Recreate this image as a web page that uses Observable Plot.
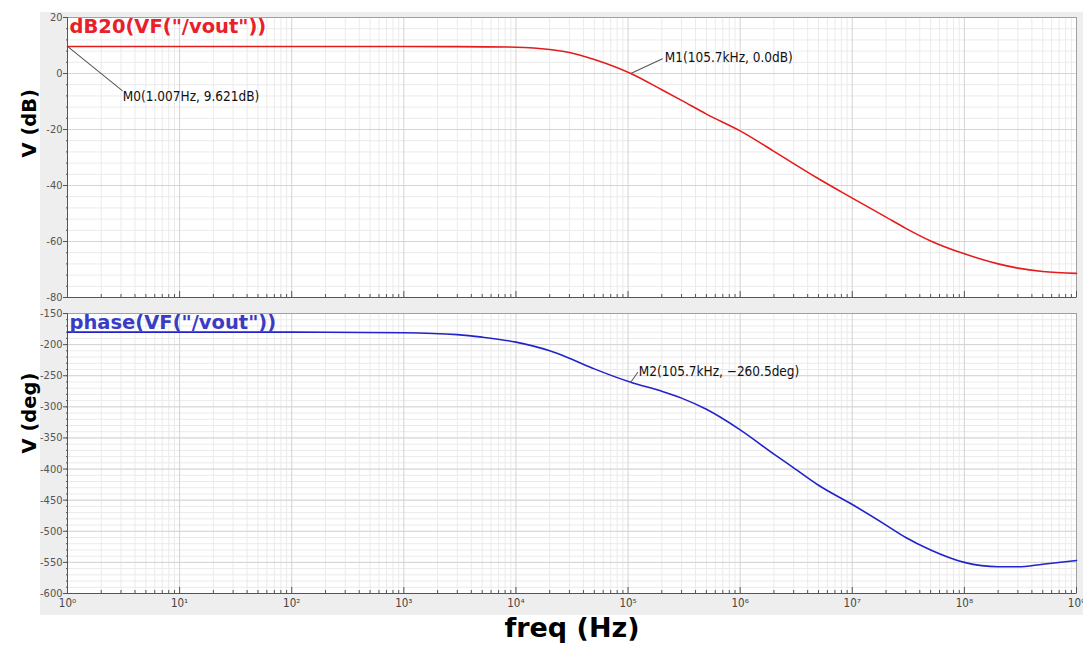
<!DOCTYPE html>
<html><head><meta charset="utf-8">
<script src="https://cdn.jsdelivr.net/npm/d3@7"></script>
<script src="https://cdn.jsdelivr.net/npm/@observablehq/plot@0.6"></script>
<style>
body{margin:0;background:#fff;}
#wrap{position:relative;width:1083px;height:657px;overflow:hidden;}
#bg{position:absolute;left:40px;top:12px;width:1043px;height:603px;background:#eeeeee;}
.panel{position:absolute;left:0;}
</style></head>
<body><div id="wrap"><div id="bg"></div><div id="top" class="panel" style="top:0px"></div><div id="bot" class="panel" style="top:300px"></div></div>
<script>
// ---- data ----
const gainFreqs = [1,10,100,1e3,3e3,1e4,2e4,3e4,5e4,1.057e5,2e5,3e5,5e5,1e6,2e6,3e6,5e6,1e7,2e7,3e7,5e7,1e8,2e8,3e8,5e8,1e9];
const gainDb    = [9.62,9.62,9.62,9.62,9.6,9.4,8.6,7.5,5.0,0.0,-5.8,-9.6,-14.5,-20.5,-27.8,-32.2,-37.6,-44.5,-51.3,-55.3,-59.8,-64.4,-68.0,-69.5,-70.7,-71.4];
const phaseFreqs = [1,10,100,1e3,3e3,5e3,1e4,2e4,3e4,5e4,1.057e5,2e5,3e5,5e5,1e6,2e6,3e6,5e6,1e7,2e7,3e7,5e7,1e8,2e8,3e8,5e8,1e9];
const phaseDeg   = [-180,-180,-180,-181,-184,-188,-196,-210,-222,-239,-260.5,-275,-286,-304,-337,-376,-398,-426,-457,-490,-510,-530,-550,-557,-557,-553,-547];
const dbTicks  = [20,0,-20,-40,-60,-80];
const degTicks = [-150,-200,-250,-300,-350,-400,-450,-500,-550,-600];
const decades  = [1,10,100,1e3,1e4,1e5,1e6,1e7,1e8,1e9];
const gainTitle  = 'dB20(VF("/vout"))';
const phaseTitle = 'phase(VF("/vout"))';
const gainMarkers  = [{f:1.007, v:9.621, label:"M0(1.007Hz, 9.621dB)"}, {f:105.7e3, v:0.0, label:"M1(105.7kHz, 0.0dB)"}];
const phaseMarkers = [{f:105.7e3, v:-260.5, label:"M2(105.7kHz, −260.5deg)"}];

// ---- derived ----
const gainData  = gainFreqs.map((f,i)=>({f, v: gainDb[i]}));
const phaseData = phaseFreqs.map((f,i)=>({f, v: phaseDeg[i]}));
const minorX = decades.slice(0,-1).flatMap(d => [2,3,4,5,6,7,8,9].map(k => k*d));
const minorDb = d3.range(-80, 20.01, 4);
const minorDeg = d3.range(-600, -149.9, 10);
const supDigits = "⁰¹²³⁴⁵⁶⁷⁸⁹";
const supFmt = d => "10" + String(Math.round(Math.log10(d))).split("").map(c => supDigits[+c]).join("");
const leader = {draw(context, l) { context.moveTo(0, 0); context.lineTo(0, -l); }};

const W = 1083, ML = 67, MR = 7, PH = 280;
const tickFont = "DejaVu Sans Condensed, DejaVu Sans, sans-serif";
const boldFont = "DejaVu Sans, sans-serif";

function panel({data, color, yDomain, yMajor, yMinor, title, titleColor, yLabel, markers, top, height, mb, showX, markerDefs}) {
  const marks = [
    Plot.frame({fill: "white", stroke: null}),
    Plot.ruleX(minorX, {stroke: "#ebebeb"}),
    Plot.ruleY(yMinor, {stroke: "#ebebeb"}),
    Plot.ruleX(decades, {stroke: "#d4d4d4"}),
    Plot.ruleY(yMajor, {stroke: "#d4d4d4"}),
    Plot.frame({stroke: "#a0a0a0"}),
    Plot.ruleX([1], {stroke: "#555"}),
    Plot.ruleY([yDomain[0]], {stroke: "#555"}),
    // inward x ticks
    Plot.tickX(minorX, {x: d => d, insetTop: PH - 3, stroke: "#555"}),
    Plot.tickX(decades, {x: d => d, insetTop: PH - 6, stroke: "#555"}),
    // y minor ticks
    Plot.tickY(yMinor, {y: d => d, insetRight: W - ML - MR - 2, dx: -1, stroke: "#555"}),
    Plot.axisY(yMajor, {tickSize: 4, tickPadding: 1, tickFormat: d => String(d), fontSize: 11, fontFamily: tickFont, color: "#555", label: null}),
    Plot.line(data, {x: "f", y: "v", stroke: color, strokeWidth: 1.6, curve: "monotone-x"}),
    ...markerDefs.map((m, i) => Plot.vector([markers[i]], {x: "f", y: "v", length: m.len, rotate: m.rot, anchor: "start", shape: leader, stroke: "#555", strokeWidth: 1})),
    ...markerDefs.map((m, i) => Plot.text([markers[i]], {x: "f", y: "v", text: "label", dx: m.dx, dy: m.dy, textAnchor: "start", fontSize: 13.5, fontFamily: tickFont, fill: "#111"})),
    Plot.text([title], {frameAnchor: "top-left", dx: 2, dy: 2, lineAnchor: "top", textAnchor: "start", fontSize: 19.5, fontWeight: "bold", fontFamily: boldFont, fill: titleColor}),
    Plot.text([yLabel], {frameAnchor: "left", dx: -38, rotate: -90, fontSize: 19.5, fontWeight: "bold", fontFamily: boldFont, fill: "#000"})
  ];
  if (showX) {
    marks.push(Plot.axisX(decades, {tickSize: 0, tickPadding: 5, tickFormat: supFmt, fontSize: 11.5, fontFamily: tickFont, color: "#444", label: null}));
    marks.push(Plot.text(["freq (Hz)"], {frameAnchor: "bottom", dy: 43, fontSize: 27, fontWeight: "bold", fontFamily: boldFont, fill: "#000"}));
  }
  return Plot.plot({
    width: W, height, marginLeft: ML, marginRight: MR, marginTop: top, marginBottom: mb,
    style: {background: "transparent", overflow: "visible"},
    x: {type: "log", domain: [1, 1e9], axis: null},
    y: {domain: yDomain, axis: null},
    marks
  });
}

document.getElementById("top").append(panel({
  data: gainData, color: "#e41c1c", yDomain: [-80, 20], yMajor: dbTicks, yMinor: minorDb,
  title: gainTitle, titleColor: "#e8202a", yLabel: "V (dB)", markers: gainMarkers,
  top: 17, height: 310, mb: 13, showX: false,
  markerDefs: [{len: 70, rot: 129, dx: 55, dy: 50}, {len: 35, rot: 65, dx: 34, dy: -16}]
}));
document.getElementById("bot").append(panel({
  data: phaseData, color: "#2222cc", yDomain: [-600, -150], yMajor: degTicks, yMinor: minorDeg,
  title: phaseTitle, titleColor: "#3b3bc4", yLabel: "V (deg)", markers: phaseMarkers,
  top: 13, height: 357, mb: 64, showX: true,
  markerDefs: [{len: 12, rot: 35, dx: 8, dy: -11}]
}));
</script></body></html>
